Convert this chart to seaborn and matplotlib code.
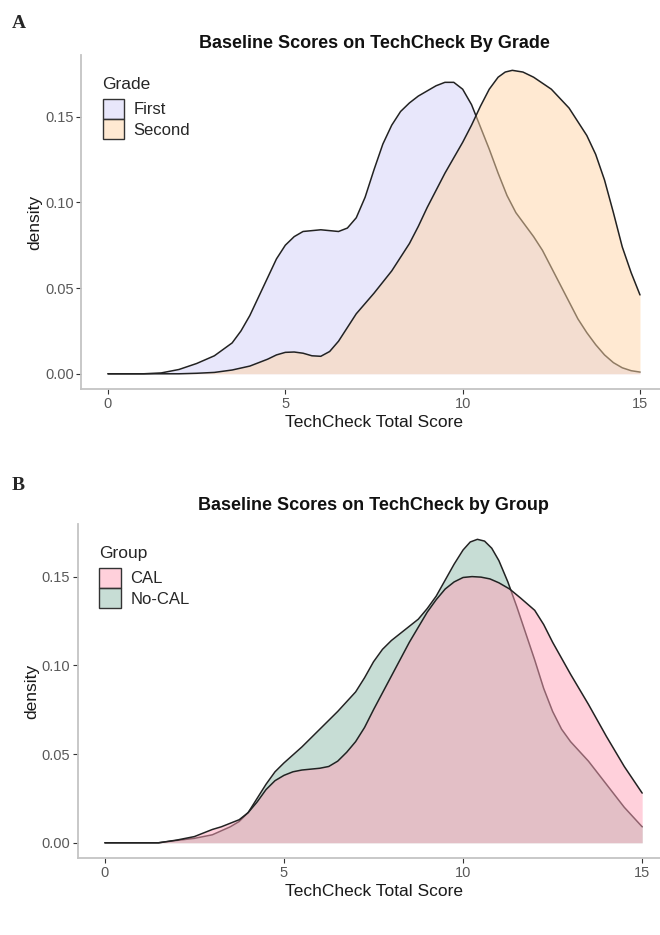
import matplotlib
matplotlib.use("Agg")
import matplotlib.pyplot as plt
from matplotlib.colors import to_rgba
from matplotlib.patches import Patch
import pandas as pd
import seaborn as sns

################################################################################
# densities

# panel A - by grade
first_x = [0, 1.0, 1.5, 2.0, 2.5, 3.0, 3.5, 3.75, 4.0, 4.25, 4.5, 4.75, 5.0,
           5.25, 5.5, 6.0, 6.5, 6.75, 7.0, 7.25, 7.5, 7.75, 8.0, 8.25, 8.5,
           8.75, 9.0, 9.25, 9.5, 9.75, 10.0, 10.25, 10.5, 10.75, 11.0, 11.25,
           11.5, 11.75, 12.0, 12.25, 12.5, 12.75, 13.0, 13.25, 13.5, 13.75,
           14.0, 14.25, 14.5, 14.75, 15.0]
first_d = [0, 0, 0.0005, 0.0025, 0.006, 0.0105, 0.018, 0.025, 0.034, 0.045,
           0.056, 0.067, 0.075, 0.080, 0.083, 0.084, 0.083, 0.085, 0.091,
           0.103, 0.119, 0.134, 0.145, 0.153, 0.158, 0.162, 0.165, 0.168,
           0.170, 0.170, 0.166, 0.157, 0.144, 0.131, 0.117, 0.104, 0.094,
           0.087, 0.080, 0.072, 0.062, 0.052, 0.042, 0.032, 0.024, 0.017,
           0.011, 0.0065, 0.0035, 0.0018, 0.001]

second_x = [0, 2.0, 2.5, 3.0, 3.5, 4.0, 4.5, 4.75, 5.0, 5.25, 5.5, 5.75, 6.0,
            6.25, 6.5, 6.75, 7.0, 7.5, 8.0, 8.5, 8.75, 9.0, 9.25, 9.5, 9.75,
            10.0, 10.25, 10.5, 10.75, 11.0, 11.2, 11.4, 11.7, 12.0, 12.5,
            13.0, 13.5, 13.75, 14.0, 14.25, 14.5, 14.75, 15.0]
second_d = [0, 0, 0.0003, 0.0008, 0.0022, 0.0045, 0.0085, 0.011, 0.0125,
            0.0127, 0.012, 0.0105, 0.0102, 0.013, 0.019, 0.027, 0.035, 0.047,
            0.060, 0.076, 0.086, 0.097, 0.107, 0.117, 0.126, 0.135, 0.145,
            0.156, 0.166, 0.173, 0.176, 0.177, 0.176, 0.173, 0.166, 0.155,
            0.139, 0.128, 0.113, 0.094, 0.074, 0.059, 0.046]

# panel B - by group
cal_x = [0, 1.5, 2.0, 2.5, 3.0, 3.25, 3.5, 3.75, 4.0, 4.25, 4.5, 4.75, 5.0,
         5.25, 5.5, 6.0, 6.25, 6.5, 6.75, 7.0, 7.25, 7.5, 8.0, 8.5, 9.0, 9.25,
         9.5, 9.75, 10.0, 10.25, 10.5, 10.75, 11.0, 11.3, 11.6, 12.0, 12.25,
         12.5, 13.0, 13.5, 14.0, 14.5, 15.0]
cal_d = [0, 0, 0.0015, 0.0035, 0.0075, 0.009, 0.011, 0.013, 0.017, 0.023,
         0.030, 0.035, 0.038, 0.040, 0.041, 0.042, 0.043, 0.046, 0.051, 0.057,
         0.065, 0.075, 0.094, 0.113, 0.130, 0.137, 0.143, 0.147, 0.1495,
         0.150, 0.1497, 0.1487, 0.1465, 0.143, 0.138, 0.131, 0.123, 0.113,
         0.095, 0.078, 0.060, 0.043, 0.028]

nocal_x = [0, 1.5, 2.0, 2.5, 3.0, 3.5, 3.75, 4.0, 4.25, 4.5, 4.75, 5.0, 5.5,
           6.0, 6.5, 7.0, 7.25, 7.5, 7.75, 8.0, 8.25, 8.5, 8.75, 9.0, 9.25,
           9.5, 9.75, 10.0, 10.2, 10.4, 10.6, 10.8, 11.0, 11.25, 11.5, 11.75,
           12.0, 12.25, 12.5, 12.75, 13.0, 13.5, 14.0, 14.5, 15.0]
nocal_d = [0, 0, 0.0013, 0.0025, 0.0045, 0.009, 0.012, 0.017, 0.025, 0.033,
           0.040, 0.045, 0.054, 0.064, 0.074, 0.085, 0.093, 0.102, 0.109,
           0.114, 0.118, 0.122, 0.126, 0.132, 0.139, 0.148, 0.157, 0.165,
           0.1695, 0.171, 0.170, 0.166, 0.159, 0.147, 0.133, 0.118, 0.103,
           0.087, 0.074, 0.064, 0.057, 0.046, 0.033, 0.020, 0.009]

grade_labels = ['First', 'Second']
grade_colors = ['#D3D1F9', '#FFD5A6']
group_labels = ['CAL', 'No-CAL']
group_colors = ['#FFA3B9', '#91BDAD']

x_ticks = [0, 5, 10, 15]
y_ticks = [0.00, 0.05, 0.10, 0.15]

################################################################################

sns.set_theme(style='white')
plt.rcParams['font.family'] = ['Liberation Sans', 'DejaVu Sans']

fig = plt.figure(figsize=(6.6, 9.35), dpi=100)


def draw_panel(ax, curves, title, legend_title, labels, colors, title_pad=5):
    # curves in drawing order, each (label, x, d)
    for z, (label, xs, ds) in enumerate(curves):
        color = colors[labels.index(label)]
        ax.fill_between(xs, 0, ds, color=to_rgba(color, 0.5), lw=0, zorder=2 + 2 * z)
        df = pd.DataFrame({'score': xs, 'density': ds})
        sns.lineplot(data=df, x='score', y='density', ax=ax, color='#222222',
                     lw=1.1, zorder=3 + 2 * z)

    ymax = max(max(c[2]) for c in curves)
    ax.set_xlim(-0.75, 15.75)
    ax.set_ylim(-0.05 * ymax, 1.05 * ymax)
    ax.set_xticks(x_ticks)
    ax.set_xticklabels([str(t) for t in x_ticks])
    ax.set_yticks(y_ticks)
    ax.set_yticklabels([f'{t:.2f}' for t in y_ticks])
    ax.tick_params(axis='both', length=3.5, width=0.8, color='#333333',
                   labelcolor='#595959', labelsize=10.5, pad=2,
                   bottom=True, left=True)

    for side in ['top', 'right']:
        ax.spines[side].set_visible(False)
    for side in ['left', 'bottom']:
        ax.spines[side].set_color('#C4C4C4')
        ax.spines[side].set_linewidth(1.3)

    ax.set_xlabel('TechCheck Total Score', fontsize=12.5, color='#1A1A1A', labelpad=3)
    ax.set_ylabel('density', fontsize=12.5, color='#1A1A1A', labelpad=2)
    ax.set_title(title, fontsize=13, fontweight='bold', color='#111111', pad=title_pad)

    handles = [Patch(facecolor=to_rgba(c, 0.5), edgecolor='#333333', lw=1.0) for c in colors]
    leg = ax.legend(handles, labels, title=legend_title, loc='upper left',
                    bbox_to_anchor=(0.022, 0.96), frameon=False, fontsize=12,
                    title_fontsize=12.5, handlelength=1.3, handleheight=1.5,
                    labelspacing=0.0, handletextpad=0.55, borderpad=0,
                    alignment='left')
    leg._legend_box.sep = 5


ax_a = fig.add_axes([0.1233, 0.584, 0.8867, 0.357])
draw_panel(ax_a,
           [('First', first_x, first_d), ('Second', second_x, second_d)],
           'Baseline Scores on TechCheck By Grade', 'Grade',
           grade_labels, grade_colors)

ax_b = fig.add_axes([0.1182, 0.0824, 0.8955, 0.357])
draw_panel(ax_b,
           [('No-CAL', nocal_x, nocal_d), ('CAL', cal_x, cal_d)],
           'Baseline Scores on TechCheck by Group', 'Group',
           group_labels, group_colors, title_pad=10)

fig.text(12 / 660, 1 - 23 / 935, 'A', family='Liberation Serif',
         fontweight='bold', fontsize=14, va='center', ha='left')
fig.text(12 / 660, 1 - 486 / 935, 'B', family='Liberation Serif',
         fontweight='bold', fontsize=14, va='center', ha='left')

fig.savefig('out.png', dpi=100)
